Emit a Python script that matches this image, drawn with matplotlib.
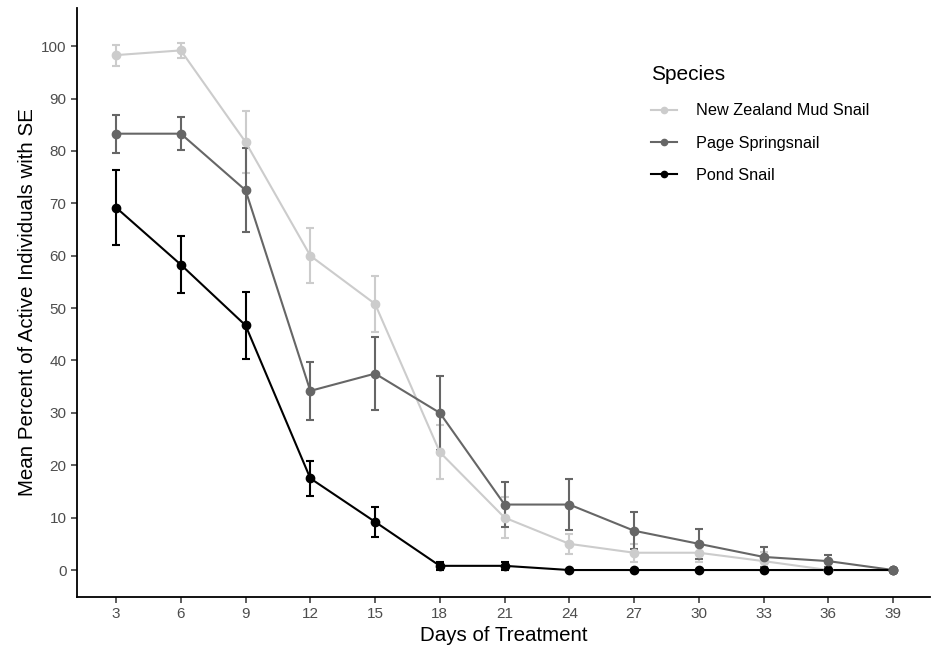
import matplotlib
matplotlib.use("Agg")
import matplotlib.pyplot as plt

plt.rcParams["font.family"] = ["Liberation Sans", "DejaVu Sans"]

# Days of treatment
days = [3, 6, 9, 12, 15, 18, 21, 24, 27, 30, 33, 36, 39]

# Mean percent active and standard errors per species
nz_mean = [98.3, 99.2, 81.7, 60.0, 50.8, 22.5, 10.0, 5.0, 3.3, 3.3, 1.7, 0.0, 0.0]
nz_se = [2.0, 1.5, 6.0, 5.3, 5.4, 5.1, 3.9, 1.9, 1.7, 1.7, 1.7, 0.0, 0.0]

page_mean = [83.3, 83.3, 72.5, 34.2, 37.5, 30.0, 12.5, 12.5, 7.5, 5.0, 2.5, 1.7, 0.0]
page_se = [3.6, 3.1, 8.0, 5.6, 6.9, 7.0, 4.3, 4.9, 3.5, 2.9, 1.9, 1.1, 0.0]

pond_mean = [69.2, 58.3, 46.7, 17.5, 9.2, 0.8, 0.8, 0.0, 0.0, 0.0, 0.0, 0.0, 0.0]
pond_se = [7.1, 5.5, 6.4, 3.3, 2.9, 0.8, 0.8, 0.0, 0.0, 0.0, 0.0, 0.0, 0.0]

species = ["New Zealand Mud Snail", "Page Springsnail", "Pond Snail"]
colors = ["#cccccc", "#666666", "#000000"]
means = [nz_mean, page_mean, pond_mean]
ses = [nz_se, page_se, pond_se]

fig = plt.figure(figsize=(9.31, 6.48), dpi=100)
ax = fig.add_axes([0.0827, 0.0787, 0.916, 0.909])

# error bars first, then lines, then points (like ggplot layers)
for m, s, c in zip(means, ses, colors):
    ax.errorbar(days, m, yerr=s, fmt="none", ecolor=c, elinewidth=1.5,
                capsize=2.6, capthick=1.5, zorder=2)
for m, c in zip(means, colors):
    ax.plot(days, m, color=c, lw=1.5, zorder=3)
for i in [0, 2, 1]:
    ax.plot(days, means[i], ls="none", marker="o", ms=6, color=colors[i], zorder=4)

# legend handles
for c, name in zip(colors, species):
    ax.plot([], [], color=c, lw=1.5, marker="o", ms=4.5, label=name)

leg = ax.legend(title="Species", loc="upper left", bbox_to_anchor=(0.684, 0.9224),
                bbox_transform=fig.transFigure, frameon=False, fontsize=11.7,
                title_fontsize=15, handlelength=1.6, handletextpad=1.12,
                labelspacing=1.06)
leg._legend_box.align = "left"
leg._legend_box.sep = 14

ax.set_xlim(1.19, 40.7)
ax.set_ylim(-5.15, 107.3)
ax.set_xticks(days)
ax.set_yticks(range(0, 101, 10))
ax.tick_params(axis="both", colors="#333333", labelcolor="#4d4d4d",
               labelsize=11, length=4, width=1.1)
for side in ["top", "right"]:
    ax.spines[side].set_visible(False)
for side in ["left", "bottom"]:
    ax.spines[side].set_linewidth(1.3)
    ax.spines[side].set_color("black")

ax.set_xlabel("Days of Treatment", fontsize=14.8, labelpad=3)
ax.set_ylabel("Mean Percent of Active Individuals with SE", fontsize=14.8, labelpad=3)

fig.savefig("out.png", dpi=100)
